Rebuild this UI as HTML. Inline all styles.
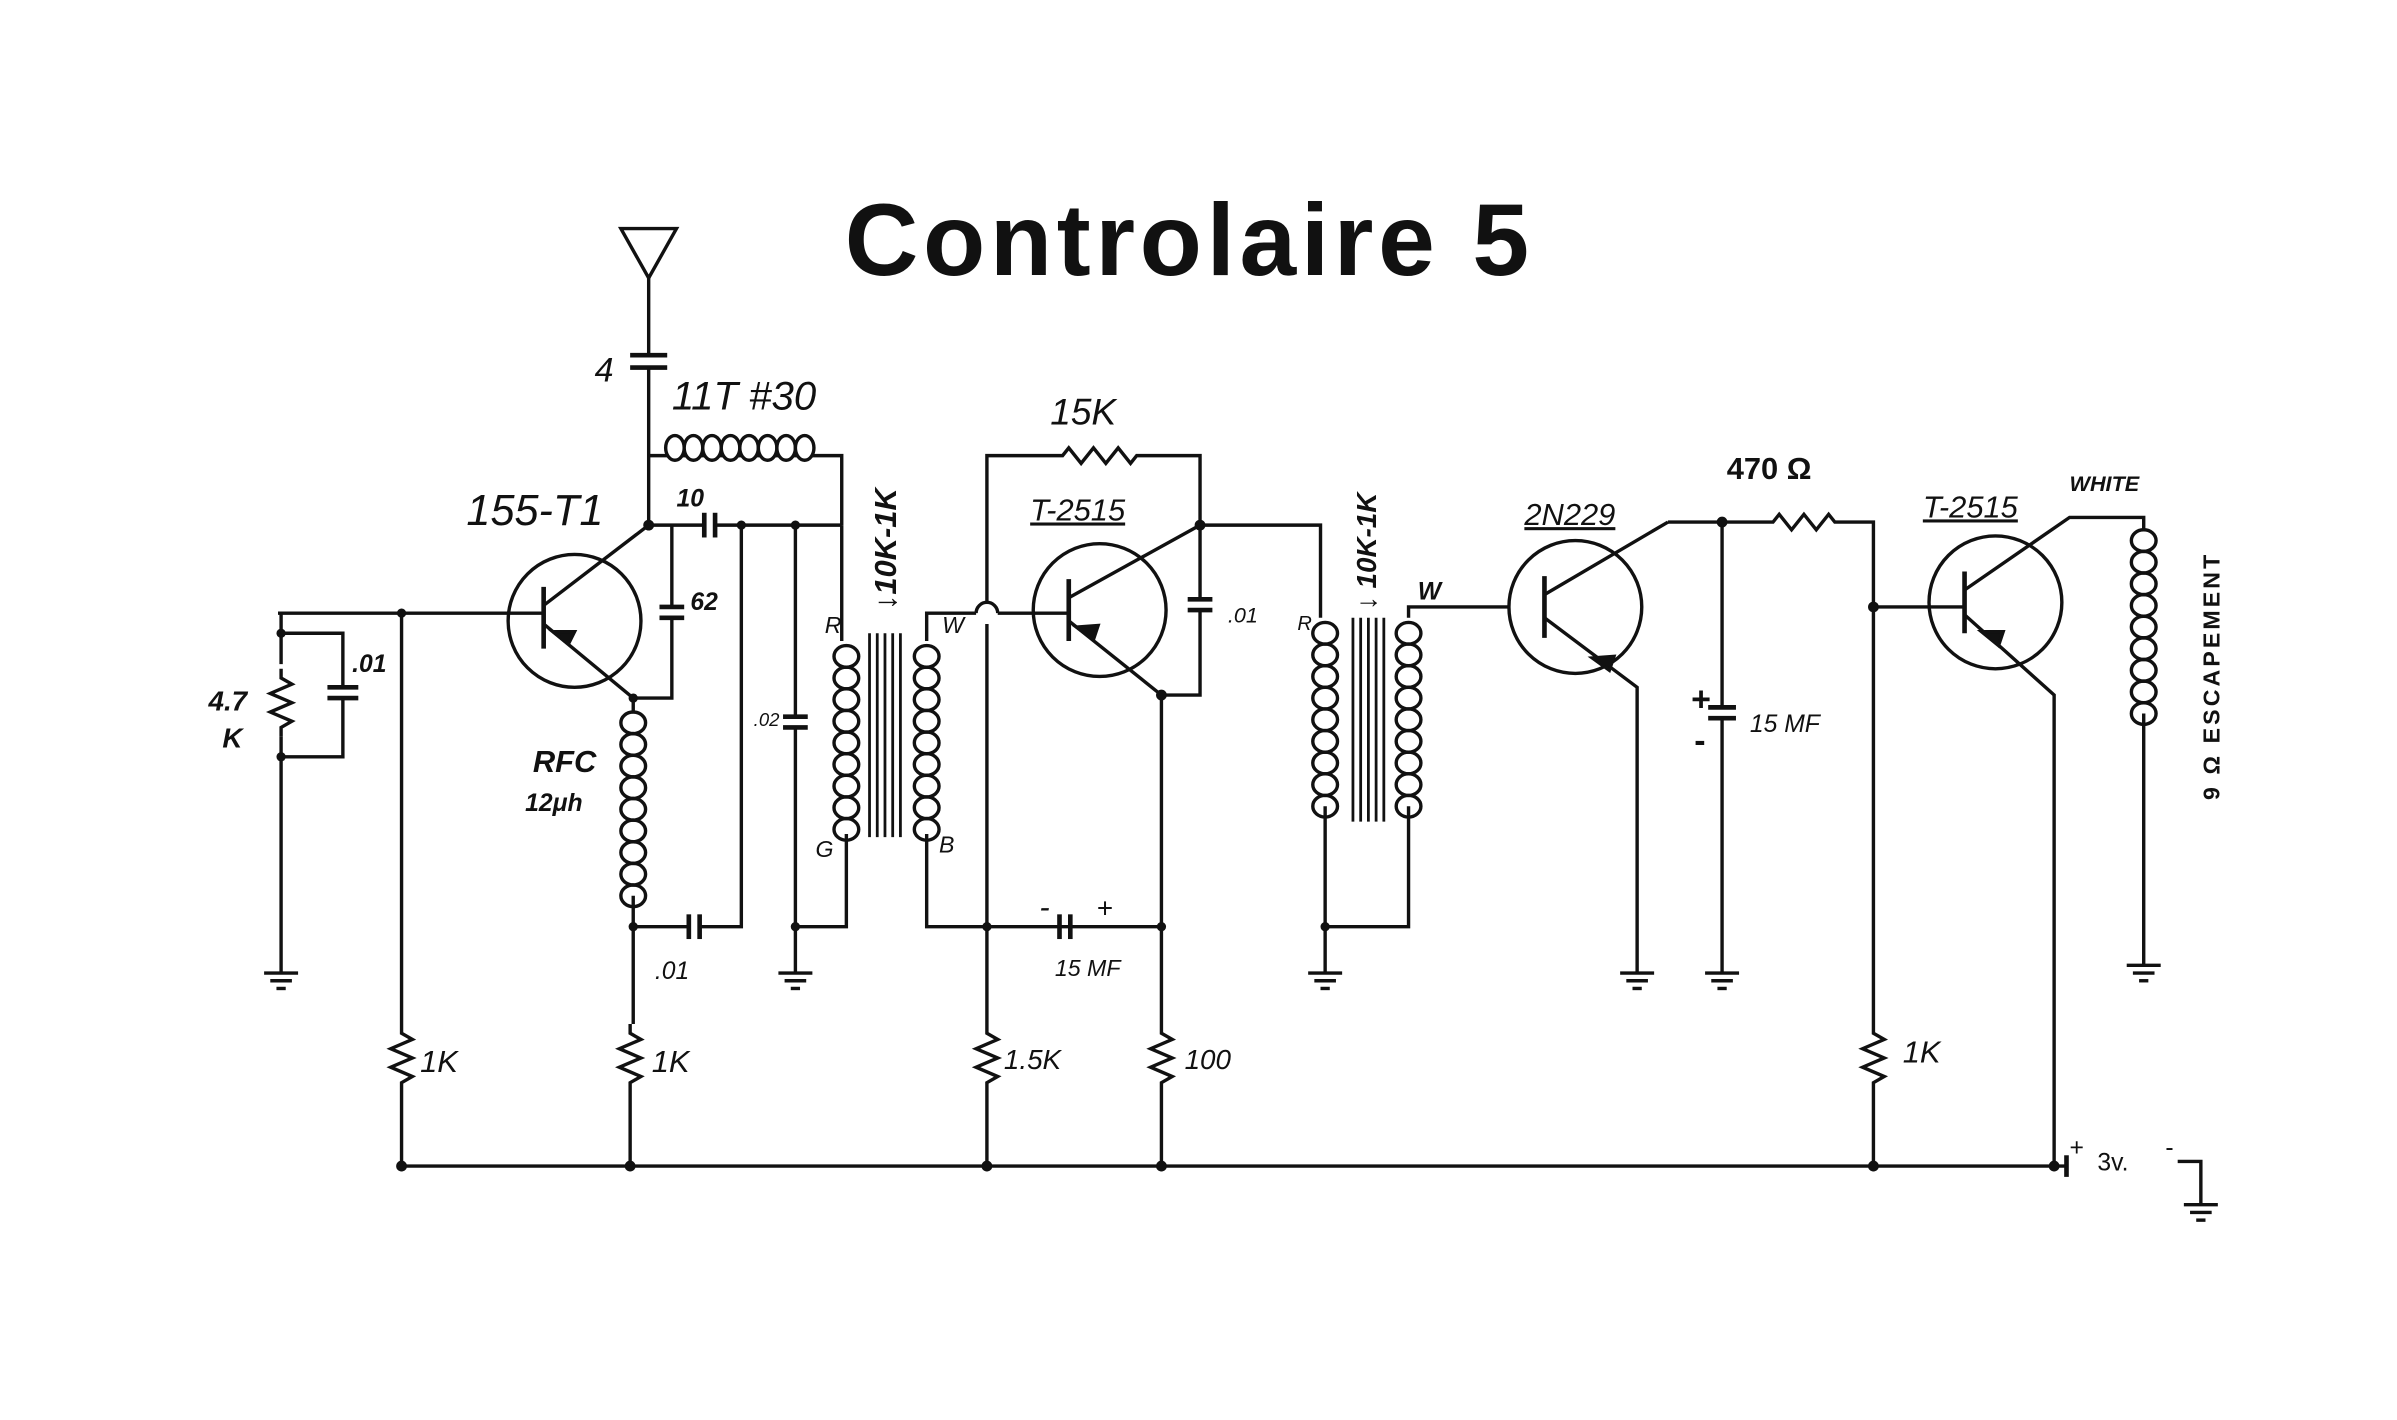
<!DOCTYPE html>
<html><head><meta charset="utf-8"><style>
html,body{margin:0;padding:0;background:#fff;}
svg{display:block;}
text{font-family:"Liberation Sans",sans-serif;font-style:italic;fill:#111;}
</style></head><body>
<svg width="2397" height="1420" viewBox="0 0 1552 919.4" preserveAspectRatio="none" xmlns="http://www.w3.org/2000/svg">
<defs>
<g id="gnd"><line x1="-11" y1="0" x2="11" y2="0"/><line x1="-7" y1="5" x2="7" y2="5"/><line x1="-3" y1="10" x2="3" y2="10"/></g>
<g id="vres"><polyline fill="none" points="0,-22 0,-16 7,-12 -7,-6 7,0 -7,6 7,12 0,16 0,22"/></g>
<g id="vcoil" fill="none">
<ellipse cx="0" cy="0" rx="8" ry="7"/><ellipse cx="0" cy="14" rx="8" ry="7"/><ellipse cx="0" cy="28" rx="8" ry="7"/><ellipse cx="0" cy="42" rx="8" ry="7"/><ellipse cx="0" cy="56" rx="8" ry="7"/><ellipse cx="0" cy="70" rx="8" ry="7"/><ellipse cx="0" cy="84" rx="8" ry="7"/><ellipse cx="0" cy="98" rx="8" ry="7"/><ellipse cx="0" cy="112" rx="8" ry="7"/>
</g>
</defs>
<rect width="1552" height="920" fill="#fff"/>
<text x="770" y="178" text-anchor="middle" style="font-style:normal;font-weight:bold;font-size:66px;letter-spacing:3px;">Controlaire  5</text>

<g stroke="#111" stroke-width="2.2" fill="none">
<polygon points="402,148 438,148 420,180"/>
<line x1="420" y1="180" x2="420" y2="230"/>
<line x1="408" y1="230" x2="432" y2="230" stroke-width="3"/><line x1="408" y1="238" x2="432" y2="238" stroke-width="3"/>
<line x1="420" y1="238" x2="420" y2="340"/>
<polyline points="420,295 545,295 545,340"/>
<g fill="#fff"><ellipse cx="437" cy="290" rx="6" ry="8"/><ellipse cx="449" cy="290" rx="6" ry="8"/><ellipse cx="461" cy="290" rx="6" ry="8"/><ellipse cx="473" cy="290" rx="6" ry="8"/><ellipse cx="485" cy="290" rx="6" ry="8"/><ellipse cx="497" cy="290" rx="6" ry="8"/><ellipse cx="509" cy="290" rx="6" ry="8"/><ellipse cx="521" cy="290" rx="6" ry="8"/></g>
<line x1="420" y1="340" x2="456" y2="340"/><line x1="456" y1="332" x2="456" y2="348" stroke-width="3"/><line x1="463" y1="332" x2="463" y2="348" stroke-width="3"/>
<line x1="463" y1="340" x2="545" y2="340"/>
<circle cx="372" cy="402" r="43"/>
<line x1="352" y1="380" x2="352" y2="420" stroke-width="3"/>
<line x1="180" y1="397" x2="352" y2="397"/>
<line x1="352" y1="392" x2="420" y2="340"/>
<line x1="352" y1="404" x2="410" y2="452"/>
<polygon points="368,417 358,409 372,409" fill="#111"/>
<line x1="435" y1="340" x2="435" y2="393"/><line x1="427" y1="393" x2="443" y2="393" stroke-width="3"/><line x1="427" y1="400" x2="443" y2="400" stroke-width="3"/><polyline points="435,400 435,452 410,452"/>
<line x1="410" y1="452" x2="410" y2="462"/>
<use href="#vcoil" x="410" y="468"/>
<polyline points="410,580 410,663"/>
<line x1="410" y1="600" x2="446" y2="600"/><line x1="446" y1="592" x2="446" y2="608" stroke-width="3"/><line x1="453" y1="592" x2="453" y2="608" stroke-width="3"/><polyline points="453,600 480,600 480,340"/>
<use href="#vres" x="408" y="685"/>
<line x1="408" y1="707" x2="408" y2="755"/>
<line x1="260" y1="397" x2="260" y2="663"/><use href="#vres" x="260" y="685"/>
<line x1="260" y1="707" x2="260" y2="755"/>
<line x1="182" y1="397" x2="182" y2="430"/><polyline points="182,410 222,410 222,445"/>
<use href="#vres" x="182" y="455"/>
<line x1="212" y1="445" x2="232" y2="445" stroke-width="3"/><line x1="212" y1="452" x2="232" y2="452" stroke-width="3"/>
<polyline points="222,452 222,490 182,490"/>
<line x1="182" y1="477" x2="182" y2="630"/><use href="#gnd" x="182" y="630"/>
<line x1="515" y1="340" x2="515" y2="464"/><line x1="507" y1="464" x2="523" y2="464" stroke-width="3"/><line x1="507" y1="471" x2="523" y2="471" stroke-width="3"/>
<line x1="515" y1="471" x2="515" y2="630"/><use href="#gnd" x="515" y="630"/>
<line x1="545" y1="340" x2="545" y2="415"/>
<use href="#vcoil" x="548" y="425"/>
<polyline points="548,540 548,600 515,600"/>
<g stroke-width="1.8"><line x1="563" y1="410" x2="563" y2="542"/><line x1="568" y1="410" x2="568" y2="542"/><line x1="573" y1="410" x2="573" y2="542"/><line x1="578" y1="410" x2="578" y2="542"/><line x1="583" y1="410" x2="583" y2="542"/></g>
<use href="#vcoil" x="600" y="425"/>
<polyline points="600,415 600,397 632,397"/>
<path d="M632,397 a7,7 0 0 1 14,0"/>
<line x1="646" y1="397" x2="692" y2="397"/>
<polyline points="600,540 600,600 752,600"/>
<line x1="686" y1="592" x2="686" y2="608" stroke-width="3"/><line x1="693" y1="592" x2="693" y2="608" stroke-width="3"/>
<polyline points="639,390 639,295 688,295 692,290 700,300 708,290 716,300 724,290 732,300 736,295 777,295 777,450 752,450"/>
<line x1="639" y1="404" x2="639" y2="663"/><use href="#vres" x="639" y="685"/><line x1="639" y1="707" x2="639" y2="755"/>
<circle cx="712" cy="395" r="43"/>
<line x1="692" y1="375" x2="692" y2="415" stroke-width="3"/>
<line x1="692" y1="387" x2="777" y2="340"/><line x1="692" y1="402" x2="752" y2="450"/>
<polygon points="708,414 697,406 711,405" fill="#111"/>
<g fill="#fff"><rect x="768" y="388" width="18" height="8" stroke="none"/></g>
<line x1="769" y1="388" x2="785" y2="388" stroke-width="3"/><line x1="769" y1="395" x2="785" y2="395" stroke-width="3"/>
<line x1="752" y1="450" x2="752" y2="663"/><use href="#vres" x="752" y="685"/><line x1="752" y1="707" x2="752" y2="755"/>
<polyline points="777,340 855,340 855,400"/>
<use href="#vcoil" x="858" y="410"/>
<polyline points="858,522 858,630"/><use href="#gnd" x="858" y="630"/>
<g stroke-width="1.8"><line x1="876" y1="400" x2="876" y2="532"/><line x1="881" y1="400" x2="881" y2="532"/><line x1="886" y1="400" x2="886" y2="532"/><line x1="891" y1="400" x2="891" y2="532"/><line x1="896" y1="400" x2="896" y2="532"/></g>
<use href="#vcoil" x="912" y="410"/>
<polyline points="912,400 912,393 978,393"/>
<polyline points="912,522 912,600 858,600"/>
<circle cx="1020" cy="393" r="43"/>
<line x1="1000" y1="373" x2="1000" y2="413" stroke-width="3"/>
<line x1="1000" y1="385" x2="1080" y2="338" /><line x1="1080" y1="338" x2="1115" y2="338"/>
<polyline points="1000,400 1060,445 1060,630"/><use href="#gnd" x="1060" y="630"/>
<polygon points="1042,434 1031,426 1045,425" fill="#111"/>
<line x1="1115" y1="338" x2="1115" y2="458"/><line x1="1106" y1="458" x2="1124" y2="458" stroke-width="3"/><line x1="1106" y1="465" x2="1124" y2="465" stroke-width="3"/>
<line x1="1115" y1="465" x2="1115" y2="630"/><use href="#gnd" x="1115" y="630"/>
<polyline points="1115,338 1148,338 1152,333 1160,343 1168,333 1176,343 1184,333 1188,338 1213,338 1213,663"/>
<use href="#vres" x="1213" y="685"/><line x1="1213" y1="707" x2="1213" y2="755"/>
<line x1="1213" y1="393" x2="1272" y2="393"/>
<circle cx="1292" cy="390" r="43"/>
<line x1="1272" y1="370" x2="1272" y2="410" stroke-width="3"/>
<polyline points="1272,382 1340,335 1388,335 1388,343"/>
<polyline points="1272,398 1330,450 1330,755"/>
<polygon points="1294,418 1283,409 1297,409" fill="#111"/>
<use href="#vcoil" x="1388" y="350"/>
<line x1="1388" y1="462" x2="1388" y2="625"/><use href="#gnd" x="1388" y="625"/>
<line x1="260" y1="755" x2="1338" y2="755"/>
<line x1="1338" y1="748" x2="1338" y2="762" stroke-width="3"/>
<polyline points="1410,752 1425,752 1425,780"/>
<use href="#gnd" x="1425" y="780"/>
</g>
<g fill="#111">
<circle cx="420" cy="340" r="3.5"/><circle cx="480" cy="340" r="3"/><circle cx="515" cy="340" r="3"/><circle cx="260" cy="397" r="3"/><circle cx="182" cy="410" r="3"/><circle cx="182" cy="490" r="3"/><circle cx="410" cy="452" r="3"/><circle cx="410" cy="600" r="3"/><circle cx="515" cy="600" r="3"/><circle cx="639" cy="600" r="3"/><circle cx="752" cy="600" r="3"/><circle cx="752" cy="450" r="3.5"/><circle cx="777" cy="340" r="3.5"/><circle cx="858" cy="600" r="3"/><circle cx="1115" cy="338" r="3.5"/><circle cx="1213" cy="393" r="3.5"/>
<circle cx="260" cy="755" r="3.5"/><circle cx="408" cy="755" r="3.5"/><circle cx="639" cy="755" r="3.5"/><circle cx="752" cy="755" r="3.5"/><circle cx="1213" cy="755" r="3.5"/><circle cx="1330" cy="755" r="3.5"/>
</g>
<g font-size="22">
<text x="385" y="247">4</text>
<text x="435" y="265" font-size="26">11T #30</text>
<text x="302" y="340" font-size="28">155-T1</text>
<text x="438" y="328" font-size="16" style="font-weight:bold">10</text>
<text x="447" y="395" font-size="16" style="font-weight:bold">62</text>
<text x="228" y="435" font-size="16" style="font-weight:bold">.01</text>
<text x="135" y="460" font-size="18" style="font-weight:bold">4.7</text>
<text x="144" y="484" font-size="18" style="font-weight:bold">K</text>
<text x="345" y="500" font-size="20" style="font-weight:bold">RFC</text>
<text x="340" y="525" font-size="16" style="font-weight:bold">12μh</text>
<text x="424" y="634" font-size="16">.01</text>
<text x="488" y="470" font-size="12">.02</text>
<text x="272" y="694" font-size="20">1K</text>
<text x="422" y="694" font-size="20">1K</text>
<text x="534" y="410" font-size="15">R</text><text x="528" y="555" font-size="15">G</text>
<text x="610" y="410" font-size="15">W</text><text x="608" y="552" font-size="15">B</text>
<text transform="translate(580,395) rotate(-90)" font-size="20" style="font-weight:bold">↓10K-1K</text>
<text x="680" y="275" font-size="24">15K</text>
<text x="667" y="337" font-size="20" text-decoration="underline">T-2515</text>
<text x="795" y="403" font-size="14">.01</text>
<text x="673" y="594" font-size="20">-</text><text x="710" y="594" font-size="18">+</text>
<text x="683" y="632" font-size="15">15 MF</text>
<text x="650" y="692" font-size="18">1.5K</text>
<text x="767" y="692" font-size="18">100</text>
<text x="840" y="408" font-size="13">R</text>
<text x="918" y="388" font-size="16" style="font-weight:bold">W</text>
<text transform="translate(891,395) rotate(-90)" font-size="18" style="font-weight:bold">↓ 10K-1K</text>
<text x="987" y="340" font-size="20" text-decoration="underline">2N229</text>
<text x="1118" y="310" font-size="20" style="font-style:normal;font-weight:bold">470 Ω</text>
<text x="1095" y="460" font-size="22" style="font-style:normal;font-weight:bold">+</text>
<text x="1097" y="487" font-size="22" style="font-style:normal;font-weight:bold">-</text>
<text x="1133" y="474" font-size="16">15 MF</text>
<text x="1232" y="688" font-size="20">1K</text>
<text x="1245" y="335" font-size="20" text-decoration="underline">T-2515</text>
<text x="1340" y="318" font-size="14" style="font-weight:bold">WHITE</text>
<text transform="translate(1437,518) rotate(-90)" font-size="15" style="font-style:normal;font-weight:bold;letter-spacing:2px">9 Ω  ESCAPEMENT</text>
<text x="1340" y="748" font-size="16" style="font-style:normal">+</text>
<text x="1358" y="758" font-size="16" style="font-style:normal">3v.</text>
<text x="1402" y="748" font-size="16" style="font-style:normal">-</text>
</g>
</svg>
</body></html>
